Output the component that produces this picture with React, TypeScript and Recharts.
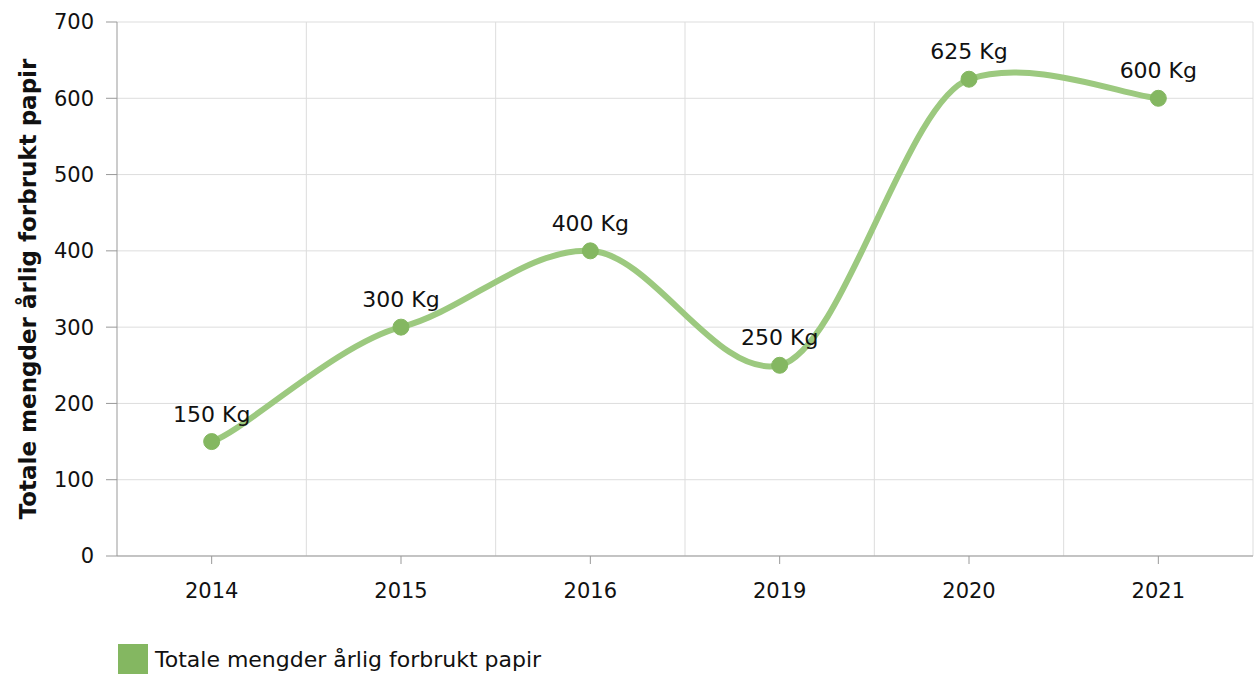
import React from "react";
import {
  LineChart,
  Line,
  XAxis,
  YAxis,
  CartesianGrid,
  Legend,
  LabelList,
} from "recharts";

const years = ["2014", "2015", "2016", "2019", "2020", "2021"];
const paperKg = [150, 300, 400, 250, 625, 600];
const yTicks = [0, 100, 200, 300, 400, 500, 600, 700];

const SERIES = "Totale mengder årlig forbrukt papir";
const LINE = "#9cc97f";
const DOT = "#84b761";
const FONT = "'DejaVu Sans', Verdana, sans-serif";

const data = years.map((year, i) => ({ year, kg: paperKg[i] }));

// tension-style smoothing, endpoints clamped (small overshoot like the original)
function tensionCurve(context: any) {
  let pts: [number, number][] = [];
  const c = 1 / 12;
  return {
    areaStart() {},
    areaEnd() {},
    lineStart() {
      pts = [];
    },
    point(x: number, y: number) {
      pts.push([+x, +y]);
    },
    lineEnd() {
      if (!pts.length) return;
      context.moveTo(pts[0][0], pts[0][1]);
      for (let i = 0; i < pts.length - 1; i++) {
        const p0 = pts[Math.max(i - 1, 0)];
        const p1 = pts[i];
        const p2 = pts[i + 1];
        const p3 = pts[Math.min(i + 2, pts.length - 1)];
        context.bezierCurveTo(
          p1[0] + (p2[0] - p0[0]) * c * 2,
          p1[1] + (p2[1] - p0[1]) * c,
          p2[0] - (p3[0] - p1[0]) * c * 2,
          p2[1] - (p3[1] - p1[1]) * c,
          p2[0],
          p2[1]
        );
      }
    },
  };
}

const renderLegend = () => (
  <div
    style={{
      height: 59,
      paddingLeft: 118,
      paddingTop: 27,
      boxSizing: "border-box",
      display: "flex",
      alignItems: "center",
      fontFamily: FONT,
      fontSize: 22,
      color: "#111",
    }}
  >
    <span
      style={{ width: 30, height: 30, background: DOT, display: "inline-block", marginRight: 7 }}
    />
    {SERIES}
  </div>
);

const YLabel = (props: any) => {
  const { viewBox } = props;
  const cy = viewBox.y + viewBox.height / 2;
  return (
    <text
      x={28}
      y={cy}
      transform={`rotate(-90, 28, ${cy})`}
      textAnchor="middle"
      dominantBaseline="central"
      fontFamily={FONT}
      fontSize={23}
      fontWeight="bold"
      fill="#111"
    >
      {SERIES}
    </text>
  );
};

export default function App() {
  const plotWidth = 1255 - 117 - 2;
  const halfBand = plotWidth / years.length / 2;
  return (
    <div style={{ position: "absolute", left: 0, top: 0 }}>
      <LineChart
        width={1255}
        height={675}
        data={data}
        margin={{ top: 22, right: 2, left: 0, bottom: 0 }}
      >
        <CartesianGrid
          stroke="#dddddd"
          verticalCoordinatesGenerator={({ offset }: any) =>
            years.map((_, i) => offset.left + ((i + 1) * offset.width) / years.length)
          }
        />
        <XAxis
          dataKey="year"
          height={60}
          padding={{ left: halfBand, right: halfBand }}
          stroke="#999"
          tickSize={8}
          tickMargin={19}
          tick={{ fill: "#111", fontSize: 21, fontFamily: FONT }}
        />
        <YAxis
          width={117}
          domain={[0, 700]}
          ticks={yTicks}
          stroke="#999"
          tickSize={11}
          tickMargin={12}
          tick={{ fill: "#111", fontSize: 21, fontFamily: FONT }}
          label={<YLabel />}
        />
        <Legend verticalAlign="bottom" content={renderLegend} />
        <Line
          dataKey="kg"
          name={SERIES}
          type={tensionCurve as any}
          stroke={LINE}
          strokeWidth={6}
          dot={{ r: 8, fill: DOT, stroke: DOT, strokeWidth: 1 }}
          activeDot={false}
          isAnimationActive={false}
        >
          <LabelList
            dataKey="kg"
            position="top"
            offset={20}
            formatter={(v: any) => `${v} Kg`}
            style={{ fill: "#111", fontSize: 22, fontFamily: FONT }}
          />
        </Line>
      </LineChart>
    </div>
  );
}
